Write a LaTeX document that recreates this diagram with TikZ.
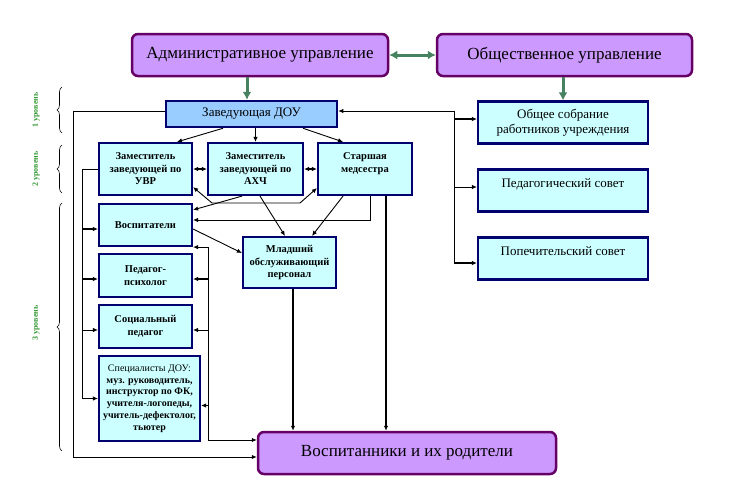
\documentclass[tikz,border=0pt]{standalone}
\usepackage{fontspec}
\setmainfont{Liberation Serif}
\usetikzlibrary{arrows.meta,decorations.pathreplacing}
\definecolor{violetfill}{RGB}{204,153,255}
\definecolor{violetline}{RGB}{102,0,102}
\definecolor{headfill}{RGB}{153,204,255}
\definecolor{boxfill}{RGB}{204,255,255}
\definecolor{boxline}{RGB}{0,0,110}
\definecolor{arrowgreen}{RGB}{70,130,95}
\definecolor{levelgreen}{RGB}{51,153,51}
\begin{document}
\begin{tikzpicture}
        [x=1pt, y=-1pt,
         govbox/.style={draw=violetline, fill=violetfill, line width=2.5pt,
            rounded corners=6pt, font=\fontsize{17}{19}\selectfont},
         headbox/.style={draw=boxline, fill=headfill, line width=2.5pt,
            font=\fontsize{13}{15}\selectfont},
         staffbox/.style={draw=boxline, fill=boxfill, line width=2.2pt,
            align=center, inner sep=1pt, font=\bfseries\fontsize{10.5}{12.5}\selectfont},
         councilbox/.style={draw=boxline, fill=boxfill, line width=2.2pt,
            align=center, minimum width=170pt, minimum height=42pt,
            font=\fontsize{13}{15}\selectfont},
         arr/.style={-{Latex[length=5pt,width=4.5pt]}, line width=0.9pt},
         arrtwo/.style={{Latex[length=5pt,width=4.5pt]}-{Latex[length=5pt,width=4.5pt]}, line width=1.8pt},
         greenarr/.style={-{Latex[length=8pt,width=9pt]}, line width=3pt, color=arrowgreen},
         levelbrace/.style={decorate, decoration={brace, amplitude=5pt}, line width=0.6pt},
         levellabel/.style={rotate=90, text=levelgreen, font=\bfseries\fontsize{8}{10}\selectfont}]
        \useasboundingbox (0,0) rectangle (741,501);
        % governance
        \node[govbox, minimum width=256pt, minimum height=42pt] (adm) at (260,55)
            {Административное управление};
        \node[govbox, minimum width=255pt, minimum height=42pt] (pub) at (564.5,55)
            {Общественное управление};
        \node[headbox, minimum width=171pt, minimum height=26pt] (head) at (251.5,114)
            {Заведующая ДОУ};
        % level 2
        \node[staffbox, minimum width=93pt, minimum height=52pt] (uvr) at (145.5,169)
            {Заместитель\\заведующей по\\УВР};
        \node[staffbox, minimum width=95pt, minimum height=52pt] (ahch) at (255.5,169)
            {Заместитель\\заведующей по\\АХЧ};
        \node[staffbox, minimum width=94pt, minimum height=52pt] (nurse) at (365,169)
            {Старшая\\медсестра\\\mbox{}};
        % level 3
        \node[staffbox, minimum width=93pt, minimum height=42pt] (tutors) at (145.5,225)
            {Воспитатели};
        \node[staffbox, minimum width=93pt, minimum height=43pt] (psych) at (145.5,275.5)
            {Педагог-\\психолог};
        \node[staffbox, minimum width=93pt, minimum height=43pt] (social) at (145.5,326.5)
            {Социальный\\педагог};
        \node[staffbox, minimum width=101pt, minimum height=85pt,
            font=\bfseries\fontsize{10}{11.8}\selectfont] (experts) at (149.5,398.5)
            {\mdseries Специалисты ДОУ:\\муз. руководитель,\\инструктор по ФК,\\учителя-логопеды,\\учитель-дефектолог,\\тьютер};
        \node[staffbox, minimum width=93pt, minimum height=51pt] (junior) at (289.5,262.5)
            {Младший\\обслуживающий\\персонал};
        \node[govbox, minimum width=298pt, minimum height=42pt] (pupils) at (407,453)
            {Воспитанники и их родители};
        % councils
        \node[councilbox] (meeting) at (563,122.5) {Общее собрание\\работников учреждения};
        \node[councilbox] (pedsov) at (563,190.5) {Педагогический совет\\\mbox{}};
        \node[councilbox] (trust) at (563,258.5) {Попечительский совет\\\mbox{}};
        % levels
        \draw[levelbrace] (62,133) -- (62,87);
        \draw[levelbrace] (62,193) -- (62,145);
        \draw[levelbrace] (62,451) -- (62,203);
        \node[levellabel] (lvlone) at (36,110) {1 уровень};
        \node[levellabel] (lvltwo) at (36,169) {2 уровень};
        \node[levellabel] (lvlthree) at (36,323) {3 уровень};
        % green arrows
        \draw[greenarr, {Latex[length=8pt,width=9pt]}-{Latex[length=8pt,width=9pt]}]
            (adm) -- (pub);
        \draw[greenarr] ([xshift=-13pt]adm.south) -- ([xshift=-13pt]adm.south |- head.north);
        \draw[greenarr] (pub.south -| meeting.north) -- (meeting.north);
        % from head
        \draw[arr] ([xshift=-28.5pt]head.south) -- ([xshift=31.5pt]uvr.north);
        \draw[arr] (head.south -| ahch.north) -- (ahch.north);
        \draw[arr] ([xshift=51.5pt]head.south) -- ([xshift=-22pt]nurse.north);
        \draw[arrtwo] (uvr) -- (ahch);
        \draw[arrtwo] (ahch) -- (nurse);
        \draw[arr, {Latex[length=5pt,width=4.5pt]}-{Latex[length=5pt,width=4.5pt]}]
            ([yshift=9pt]uvr.south east) -- (212,203) -- (300,203)
            -- ([yshift=8pt]nurse.south west);
        \draw[arr] ([xshift=-13.5pt]ahch.south) -- ([yshift=-7pt]tutors.north east);
        \draw[arr] ([xshift=4.5pt]ahch.south) -- ([xshift=-4.5pt]junior.north);
        \draw[arr] ([xshift=-22pt]nurse.south) -- ([xshift=22.5pt]junior.north);
        \draw[arr] ([xshift=5pt]nurse.south) |- ([yshift=5pt]tutors.east);
        \draw[arr, line width=1.8pt] ([xshift=21pt]nurse.south)
            -- ([xshift=21pt]nurse.south |- pupils.north);
        \draw[arr, line width=1.8pt] ([xshift=3.5pt]junior.south)
            -- ([xshift=3.5pt]junior.south |- pupils.north);
        \draw[arr] ([yshift=-4pt]tutors.east) -- ([yshift=9.5pt]junior.west);
        % left bus from deputy
        \coordinate (lbus) at (82,0);
        \draw[line width=0.9pt] (uvr.west) -| (experts.west -| lbus);
        \draw[arr, line width=1.8pt] ([yshift=-4pt]tutors.west -| lbus) -- ([yshift=-4pt]tutors.west);
        \draw[arr, line width=1.8pt] ([yshift=-3.5pt]psych.west -| lbus) -- ([yshift=-3.5pt]psych.west);
        \draw[arr] ([yshift=-3.5pt]social.west -| lbus) -- ([yshift=-3.5pt]social.west);
        \draw[arr, line width=1.8pt] (experts.west -| lbus) -- (experts.west);
        % right bus to pupils
        \coordinate (rbus) at (208,0);
        \draw[arr] (tutors.south east -| rbus) -- (tutors.south east);
        \draw[arr] (tutors.south east -| rbus) |- ([yshift=13pt]pupils.west);
        \draw[arr, line width=1.8pt] ([yshift=-3.5pt]psych.east -| rbus) -- ([yshift=-3.5pt]psych.east);
        \draw[arr] ([yshift=-3.5pt]social.east -| rbus) -- ([yshift=-3.5pt]social.east);
        \draw[arr] ([yshift=-7pt]experts.east -| rbus) -- ([yshift=-7pt]experts.east);
        % outer loop
        \coordinate (obus) at (73,0);
        \draw[arr] ([yshift=3pt]head.west) -| ([yshift=-4pt]pupils.west -| obus)
            -- ([yshift=-4pt]pupils.west);
        % councils bus
        \coordinate (cbus) at (454,0);
        \draw[arr] ([yshift=3pt]head.east -| cbus) -- ([yshift=3pt]head.east);
        \draw[line width=0.9pt] ([yshift=3pt]head.east -| cbus) -- ([yshift=-4.5pt]trust.west -| cbus);
        \draw[arr, line width=1.8pt] ([yshift=3.5pt]meeting.west -| cbus) -- ([yshift=3.5pt]meeting.west);
        \draw[arr] ([yshift=3.5pt]pedsov.west -| cbus) -- ([yshift=3.5pt]pedsov.west);
        \draw[arr, line width=1.8pt] ([yshift=-4.5pt]trust.west -| cbus) -- ([yshift=-4.5pt]trust.west);
        \end{tikzpicture}
\end{document}
